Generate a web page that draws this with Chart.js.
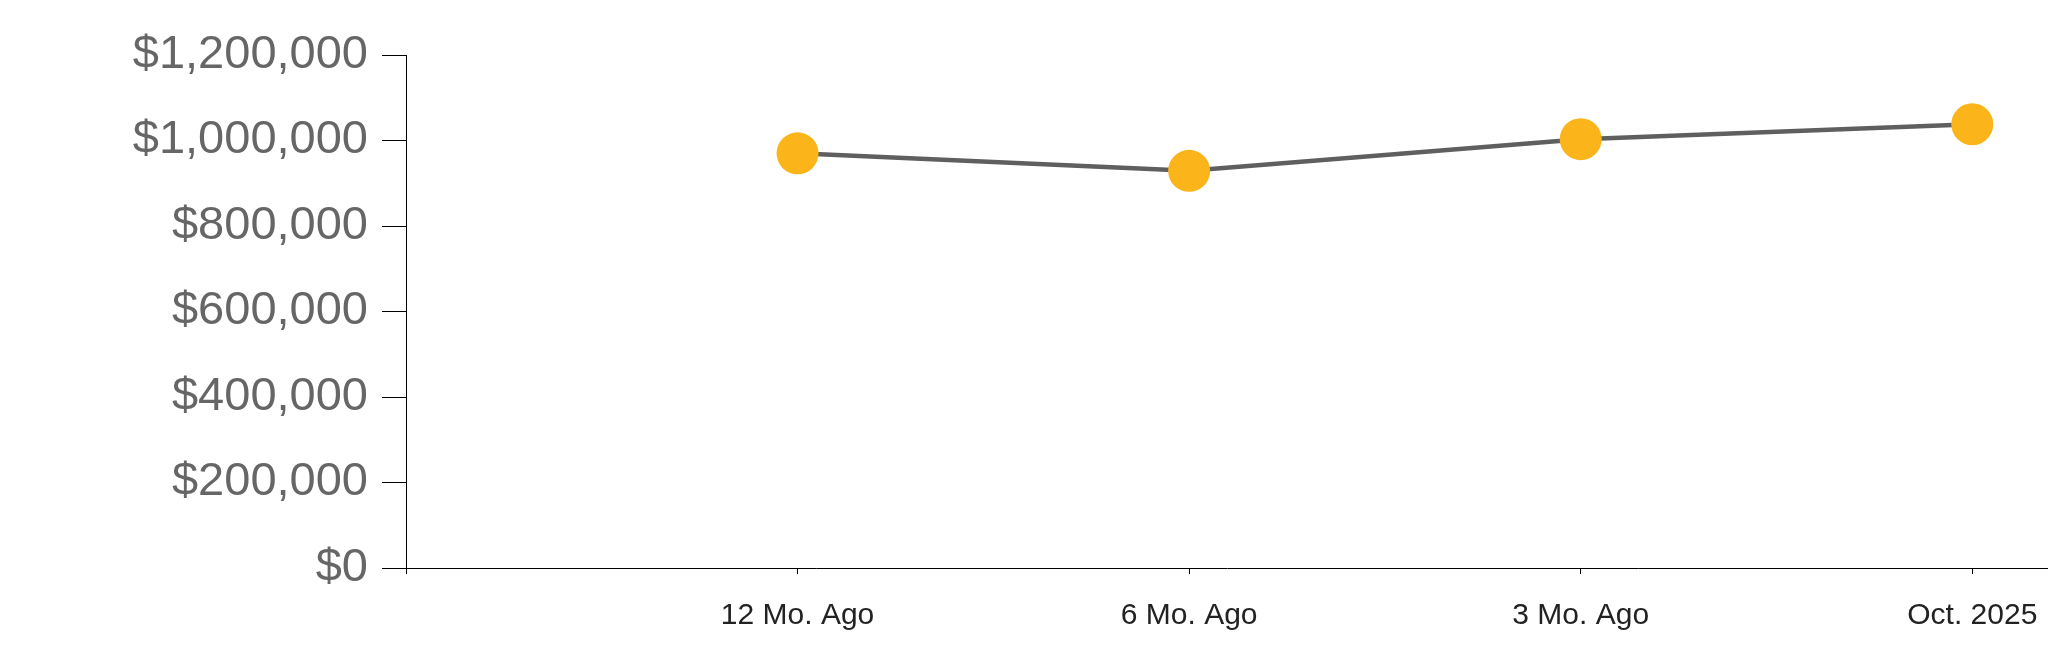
<!DOCTYPE html>
<html>
<head>
<meta charset="utf-8">
<script src="https://cdn.jsdelivr.net/npm/chart.js@4"></script>
<style>
    html, body { margin: 0; padding: 0; background: #fff; }
    #wrap { width: 2048px; height: 663px; }
</style>
</head>
<body>
<div id="wrap"><canvas id="priceChart" width="2048" height="663"></canvas></div>
<script>
// Data
const categories = ['12 Mo. Ago', '6 Mo. Ago', '3 Mo. Ago', 'Oct. 2025'];
const medianPrices = [970000, 929000, 1003000, 1038000];
const yMax = 1200000;
const yStep = 200000;

const fontFamily = "'Liberation Sans', Arial, sans-serif";

const points = medianPrices.map((v, i) => ({ x: i + 1, y: v }));

const ctx = document.getElementById('priceChart').getContext('2d');
new Chart(ctx, {
    type: 'line',
    data: {
        datasets: [{
            data: points,
            borderColor: '#5f5f5f',
            borderWidth: 4.5,
            pointRadius: 21,
            pointHoverRadius: 21,
            pointBackgroundColor: '#FBB41A',
            pointBorderColor: '#FBB41A',
            pointBorderWidth: 0,
            tension: 0,
            fill: false
        }]
    },
    options: {
        responsive: false,
        animation: false,
        devicePixelRatio: 1,
        layout: {
            autoPadding: false,
            padding: { top: 55, right: 0, bottom: 0, left: 0 }
        },
        plugins: {
            legend: { display: false },
            tooltip: { enabled: false }
        },
        scales: {
            x: {
                type: 'linear',
                min: 0,
                max: 4.1934,
                afterFit: (scale) => {
                    scale.height = 95;
                    scale.paddingLeft = 0;
                    scale.paddingRight = 0;
                },
                grid: {
                    drawOnChartArea: false,
                    drawTicks: true,
                    tickLength: 6,
                    color: '#000'
                },
                border: { color: '#000', width: 1 },
                ticks: {
                    stepSize: 1,
                    includeBounds: false,
                    autoSkip: false,
                    maxRotation: 0,
                    padding: 24,
                    color: '#222',
                    font: { family: fontFamily, size: 30 },
                    callback: (value) => categories[value - 1] || ''
                }
            },
            y: {
                min: 0,
                max: yMax,
                afterFit: (scale) => {
                    scale.width = 406;
                    scale.paddingTop = 0;
                    scale.paddingBottom = 0;
                },
                grid: {
                    drawOnChartArea: false,
                    drawTicks: true,
                    tickLength: 24,
                    color: '#000'
                },
                border: { color: '#000', width: 1 },
                ticks: {
                    stepSize: yStep,
                    padding: 14,
                    color: '#666',
                    font: { family: fontFamily, size: 47 },
                    callback: (value) => '$' + value.toLocaleString('en-US')
                }
            }
        }
    }
});
</script>
</body>
</html>
